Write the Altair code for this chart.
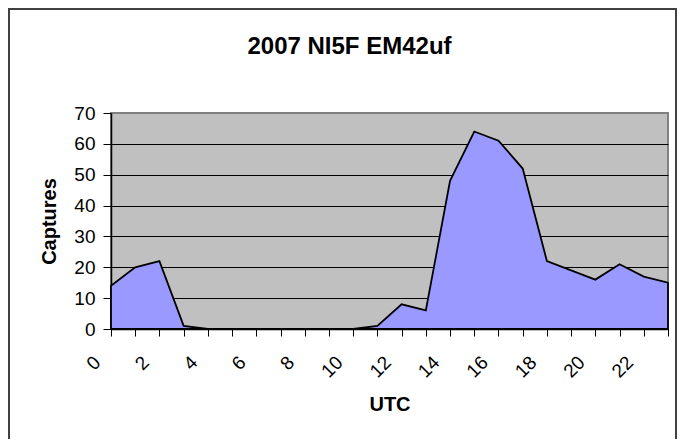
import altair as alt
import pandas as pd

# ---- data ----
hours = list(range(24))
captures = [14, 20, 22, 1, 0, 0, 0, 0, 0, 0, 0, 1, 8, 6, 48, 64, 61, 52, 22, 19, 16, 21, 17, 15]
x_ticks = list(range(24))
y_ticks = [0, 10, 20, 30, 40, 50, 60, 70]
title_text = "2007 NI5F EM42uf"
x_title = "UTC"
y_title = "Captures"

df = pd.DataFrame({"UTC": hours, "Captures": captures})

FONT = "Liberation Sans"

x_axis = alt.Axis(
    values=x_ticks,
    labelExpr="datum.value % 2 === 0 ? datum.label : ''",
    labelAngle=315,
    labelAlign="right",
    labelBaseline="middle",
    labelOffset=-14,
    labelPadding=23,
    labelOverlap=False,
    labelFlush=False,
    labelFont=FONT,
    labelFontSize=19,
    labelColor="black",
    tickSize=7,
    tickColor="black",
    tickWidth=1,
    domainColor="black",
    domainWidth=1.5,
    grid=False,
    title=x_title,
    titleFont=FONT,
    titleFontSize=20,
    titleFontWeight="bold",
    titleColor="black",
    titleX=278.5,
    titleY=81.7,
    titleAlign="center",
    titleBaseline="alphabetic",
)

y_axis = alt.Axis(
    values=y_ticks,
    grid=True,
    gridColor={"condition": {"test": "datum.value === 70", "value": "#808080"}, "value": "black"},
    gridWidth=1,
    labelFont=FONT,
    labelFontSize=19,
    labelColor="black",
    labelPadding=8,
    tickSize=8,
    tickColor="black",
    tickWidth=1,
    domainColor="black",
    domainWidth=1.5,
    title=y_title,
    titleFont=FONT,
    titleFontSize=20,
    titleFontWeight="bold",
    titleColor="black",
    titleAngle=270,
    titleX=-56,
    titleY=108,
    titleAlign="center",
    titleBaseline="alphabetic",
)

area = alt.Chart(df).mark_area(
    fill="#9999FF", stroke="black", strokeWidth=1.8, opacity=1
).encode(
    x=alt.X("UTC:Q", scale=alt.Scale(domain=[0, 23], nice=False, zero=False), axis=x_axis),
    y=alt.Y("Captures:Q", scale=alt.Scale(domain=[0, 70], nice=False), axis=y_axis),
)

frame = alt.Chart(alt.Data(values=[{}])).mark_rect(
    filled=False, stroke="#404040", strokeWidth=2
).encode(
    x=alt.value(-102), x2=alt.value(565), y=alt.value(-104), y2=alt.value(340)
)

chart = alt.layer(area, frame).properties(
    width=557,
    height=216,
    autosize=alt.AutoSizeParams(type="none"),
    padding={"left": 103, "top": 105, "right": 9, "bottom": 110},
    title=alt.TitleParams(
        text=title_text,
        font=FONT,
        fontSize=24,
        fontWeight="bold",
        color="black",
        anchor="middle",
        baseline="alphabetic",
        dx=-40,
        offset=-70,
    ),
).configure(background="white").configure_view(
    fill="#C0C0C0", stroke="#808080", strokeWidth=2
)

chart.save("out.html", embed_options={"renderer": "svg", "actions": False})
